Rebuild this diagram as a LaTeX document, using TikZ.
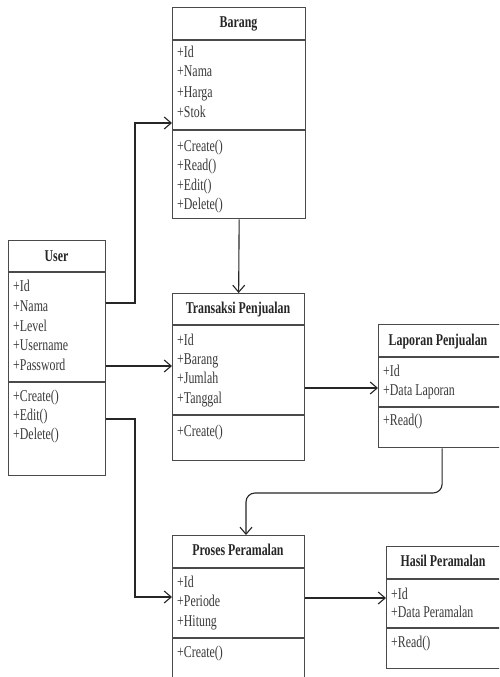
\documentclass[tikz,border=0pt]{standalone}
\usepackage{fontspec}
\setmainfont[FakeStretch=0.72]{Liberation Serif}
\usetikzlibrary{arrows.meta,calc}
\definecolor{boxline}{HTML}{4A4A4A}
\definecolor{itemtext}{HTML}{3A3A3A}
\tikzset{
  cls/.style={draw=boxline, line width=1.3pt, inner sep=0pt, anchor=north west, fill=white},
  divider/.style={draw=boxline, line width=1.3pt},
  item/.style={anchor=west, inner sep=0pt, text=itemtext, font=\fontsize{16.5}{18}\selectfont, text height=11pt, text depth=3pt},
  ttl/.style={inner sep=0pt, text=black!85, font=\fontsize{16.5}{18}\selectfont\bfseries, text height=11pt, text depth=3pt},
  conn/.style={draw=black!85, line width=1.1pt, -{Straight Barb[length=7pt,width=12pt,line width=1.1pt]}},
}
\begin{document}
\begin{tikzpicture}[x=1pt,y=-1pt]
\useasboundingbox (0,0) rectangle (499,677);
\clip (0,0) rectangle (499,677);
\fill[white] (0,0) rectangle (499,677);

% ---------- Barang ----------
\node[cls, minimum width=133pt, minimum height=211pt] (barang) at (172,7) {};
\draw[divider] (barang.west |- 0,40) -- (barang.east |- 0,40);
\draw[divider] (barang.west |- 0,130) -- (barang.east |- 0,130);
\node[ttl] (barangT) at (238.5,24) {Barang};
\node[item] (b1) at (177,53) {+Id};
\node[item] (b2) at (177,73) {+Nama};
\node[item] (b3) at (177,93) {+Harga};
\node[item] (b4) at (177,113) {+Stok};
\node[item] (b5) at (177,147) {+Create()};
\node[item] (b6) at (177,166) {+Read()};
\node[item] (b7) at (177,186) {+Edit()};
\node[item] (b8) at (177,205) {+Delete()};

% ---------- User ----------
\node[cls, minimum width=97pt, minimum height=235pt] (user) at (8,240) {};
\draw[divider] (user.west |- 0,272) -- (user.east |- 0,272);
\draw[divider] (user.west |- 0,382) -- (user.east |- 0,382);
\node[ttl] (userT) at (56.5,257) {User};
\node[item] (u1) at (13,287) {+Id};
\node[item] (u2) at (13,307) {+Nama};
\node[item] (u3) at (13,327) {+Level};
\node[item] (u4) at (13,346) {+Username};
\node[item] (u5) at (13,366) {+Password};
\node[item] (u6) at (13,397) {+Create()};
\node[item] (u7) at (13,416) {+Edit()};
\node[item] (u8) at (13,435) {+Delete()};

% ---------- Transaksi Penjualan ----------
\node[cls, minimum width=132pt, minimum height=167pt] (trans) at (172,293) {};
\draw[divider] (trans.west |- 0,325) -- (trans.east |- 0,325);
\draw[divider] (trans.west |- 0,415) -- (trans.east |- 0,415);
\node[ttl] (transT) at (238,309) {Transaksi Penjualan};
\node[item] (t1) at (177,341) {+Id};
\node[item] (t2) at (177,360) {+Barang};
\node[item] (t3) at (177,379) {+Jumlah};
\node[item] (t4) at (177,399) {+Tanggal};
\node[item] (t5) at (177,432) {+Create()};

% ---------- Laporan Penjualan ----------
\node[cls, minimum width=127pt, minimum height=123pt] (lap) at (378,324) {};
\draw[divider] (lap.west |- 0,357) -- (lap.east |- 0,357);
\draw[divider] (lap.west |- 0,407) -- (lap.east |- 0,407);
\node[ttl] (lapT) at (438,341) {Laporan Penjualan};
\node[item] (l1) at (383,372) {+Id};
\node[item] (l2) at (383,391) {+Data Laporan};
\node[item] (l3) at (383,421) {+Read()};

% ---------- Proses Peramalan ----------
\node[cls, minimum width=132pt, minimum height=160pt] (proses) at (172,535) {};
\draw[divider] (proses.west |- 0,568) -- (proses.east |- 0,568);
\draw[divider] (proses.west |- 0,638) -- (proses.east |- 0,638);
\node[ttl] (prosesT) at (238,551) {Proses Peramalan};
\node[item] (p1) at (177,583) {+Id};
\node[item] (p2) at (177,602) {+Periode};
\node[item] (p3) at (177,622) {+Hitung};
\node[item] (p4) at (177,653) {+Create()};

% ---------- Hasil Peramalan ----------
\node[cls, minimum width=122pt, minimum height=122pt] (hasil) at (386,546) {};
\draw[divider] (hasil.west |- 0,579) -- (hasil.east |- 0,579);
\draw[divider] (hasil.west |- 0,628) -- (hasil.east |- 0,628);
\node[ttl] (hasilT) at (443,562) {Hasil Peramalan};
\node[item] (h1) at (391,595) {+Id};
\node[item] (h2) at (391,613) {+Data Peramalan};
\node[item] (h3) at (391,643) {+Read()};

% ---------- Connectors ----------
\coordinate (bendA) at (135,303);
\coordinate (bendB) at (135,419);
\draw[conn] (user.east |- 0,303) -- (bendA) |- (barang.west |- 0,123);
\draw[conn] (barang.south) -- (trans.north);
\draw[conn] (user.east |- 0,366) -- (trans.west |- 0,366);
\draw[conn] (user.east |- 0,419) -- (bendB) |- (proses.west |- 0,597);
\draw[conn] (trans.east |- 0,388) -- (lap.west |- 0,388);
\draw[conn, rounded corners=9pt] (lap.south) -- (lap.south |- 0,493) -- (246,493) -- (proses.north -| 246,0);
\draw[conn] (proses.east |- 0,598) -- (hasil.west |- 0,598);
\end{tikzpicture}
\end{document}
